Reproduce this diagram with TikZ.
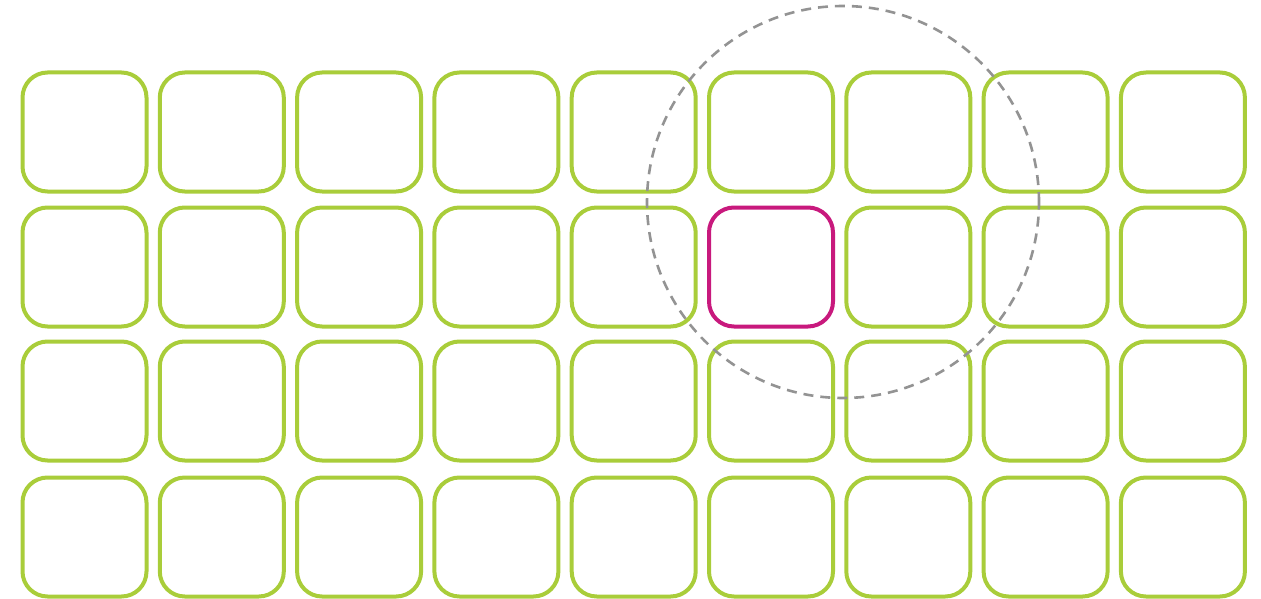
\documentclass[tikz,border=0pt]{standalone}
\definecolor{cellgreen}{HTML}{A9CD3A}
\definecolor{cellpink}{HTML}{C8197D}
\definecolor{ringgray}{HTML}{939393}
\tikzset{
  cell/.style={draw=cellgreen, line width=4pt, rounded corners=25pt, minimum width=124pt, minimum height=119pt, inner sep=0pt, outer sep=0pt},
  focus/.style={cell, draw=cellpink},
  ring/.style={draw=ringgray, line width=2.6pt, dash pattern=on 10pt off 7pt, circle, minimum size=392pt, inner sep=0pt}
}
\begin{document}
\begin{tikzpicture}[x=1pt,y=-1pt]
\useasboundingbox (0,0) rectangle (1261,599);
\foreach \i in {0,...,8}{
  \foreach \j/\yy in {0/132,1/267,2/401,3/537}{
    \pgfmathsetmacro{\xx}{84.5+137.3*\i}
    \ifnum\i=5 \ifnum\j=1
      \node[focus] (c-\i-\j) at (\xx,\yy) {};
    \else
      \node[cell] (c-\i-\j) at (\xx,\yy) {};
    \fi\else
      \node[cell] (c-\i-\j) at (\xx,\yy) {};
    \fi
  }
}
\node[ring] (r) at (843,202) {};
\end{tikzpicture}
\end{document}
